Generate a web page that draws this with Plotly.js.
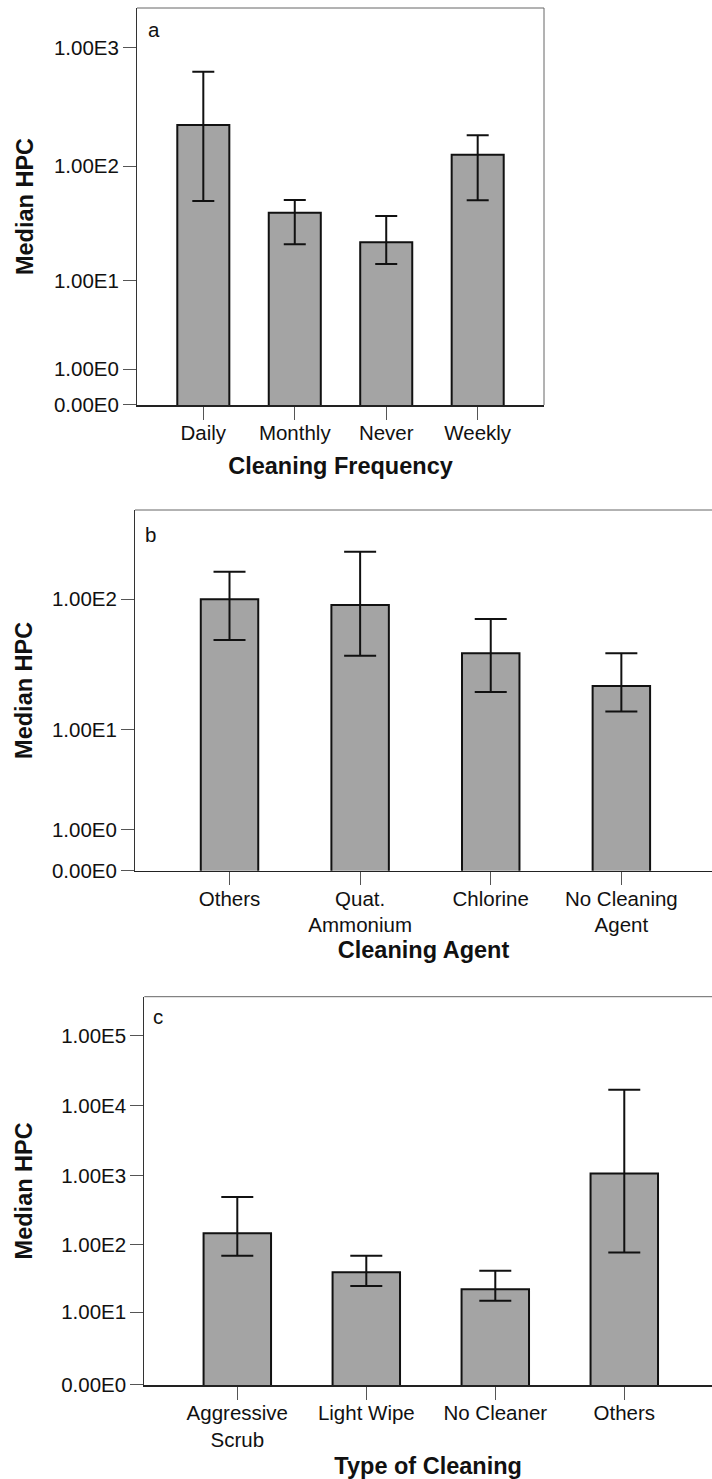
<!DOCTYPE html>
<html><head><meta charset="utf-8">
<script src="https://cdn.plot.ly/plotly-3.0.1.min.js"></script>
<style>html,body{margin:0;padding:0;background:#fff}#chart{width:712px;height:1479px}</style>
</head><body><div id="chart"></div>
<script>
// Panel a: Cleaning Frequency
const freqCategories = ['Daily', 'Monthly', 'Never', 'Weekly'];
const freqTickLabels = ['Daily', 'Monthly', 'Never', 'Weekly'];
const freqMedian = [224, 40.2, 22.2, 125.5];
const freqUpper = [629, 51.7, 37.6, 183];
const freqLower = [50.7, 21.4, 14.3, 51.4];

// Panel b: Cleaning Agent
const agentCategories = ['Others', 'Quat. Ammonium', 'Chlorine', 'No Cleaning Agent'];
const agentTickLabels = ['Others', 'Quat.<br>Ammonium', 'Chlorine', 'No Cleaning<br>Agent'];
const agentMedian = [100, 90.7, 39.3, 22.1];
const agentUpper = [160.6, 226, 71.3, 39.3];
const agentLower = [49.5, 37.7, 19.9, 14.0];

// Panel c: Type of Cleaning
const typeCategories = ['Aggressive Scrub', 'Light Wipe', 'No Cleaner', 'Others'];
const typeTickLabels = ['Aggressive<br>Scrub', 'Light Wipe', 'No Cleaner', 'Others'];
const typeMedian = [148, 40.2, 22.5, 1063];
const typeUpper = [488, 70, 42, 16830];
const typeLower = [70, 25.2, 15.1, 77.6];

// y tick values (original units) and labels
const freqTickValues = [0, 1, 10, 100, 1000];
const freqTickText = ['0.00E0', '1.00E0', '1.00E1', '1.00E2', '1.00E3'];
const agentTickValues = [0, 1, 10, 100];
const agentTickText = ['0.00E0', '1.00E0', '1.00E1', '1.00E2'];
const typeTickValues = [0, 10, 100, 1000, 10000, 100000];
const typeTickText = ['0.00E0', '1.00E1', '1.00E2', '1.00E3', '1.00E4', '1.00E5'];

const W = 712, H = 1479;
const FONT = 'Liberation Sans, Arial, Helvetica, sans-serif';
const TICK_SIZE = 20.5, TITLE_SIZE = 23.5;
const fx = p => p / W;
const fy = p => 1 - p / H;

const panels = [
  {cats: freqCategories, labels: freqTickLabels, med: freqMedian, up: freqUpper, lo: freqLower,
   tv: freqTickValues, tt: freqTickText, xtitle: 'Cleaning Frequency', tag: 'a',
   box: [137, 544, 8, 405], xr: [-0.725, 3.725], yTop: 3.334, bw: 0.569, cap: 11, right: true,
   tagPos: [146, 29], xs: 14, ys: 13},
  {cats: agentCategories, labels: agentTickLabels, med: agentMedian, up: agentUpper, lo: agentLower,
   tv: agentTickValues, tt: agentTickText, xtitle: 'Cleaning Agent', tag: 'b',
   box: [135, 712, 510, 870.7], xr: [-0.7236, 3.694], yTop: 2.664, bw: 0.44, cap: 16, right: false,
   tagPos: [143, 534], xs: 6, ys: 12},
  {cats: typeCategories, labels: typeTickLabels, med: typeMedian, up: typeUpper, lo: typeLower,
   tv: typeTickValues, tt: typeTickText, xtitle: 'Type of Cleaning', tag: 'c',
   box: [144.3, 712, 996.7, 1385], xr: [-0.721, 3.680], yTop: 5.558, bw: 0.523, cap: 16, right: false,
   tagPos: [151, 1016], xs: 10, ys: 21}
];

const data = [];
const layout = {
  width: W, height: H,
  margin: {l: 0, r: 0, t: 0, b: 0},
  paper_bgcolor: '#fff', plot_bgcolor: '#fff',
  showlegend: false,
  font: {family: FONT, size: TICK_SIZE, color: '#111'},
  shapes: [], annotations: []
};

panels.forEach((p, i) => {
  const n = i + 1;
  const sfx = n === 1 ? '' : String(n);
  data.push({
    type: 'bar',
    x: p.cats,
    y: p.med.map(v => v + 1),
    width: p.bw,
    marker: {color: '#a4a4a4', line: {color: '#111', width: 2}},
    error_y: {
      type: 'data', symmetric: false,
      array: p.up.map((u, k) => u - p.med[k]),
      arrayminus: p.med.map((m, k) => m - p.lo[k]),
      color: '#111', thickness: 2, width: p.cap
    },
    xaxis: 'x' + sfx, yaxis: 'y' + sfx,
    hoverinfo: 'none'
  });
  layout['xaxis' + sfx] = {
    domain: [fx(p.box[0]), Math.min(1, fx(p.box[1]))],
    anchor: 'y' + sfx,
    type: 'category', range: p.xr,
    tickmode: 'array', tickvals: p.cats, ticktext: p.labels,
    ticks: 'outside', ticklen: 13, tickwidth: 1, tickcolor: '#555',
    ticklabelstandoff: -4,
    showline: true, linecolor: '#222', linewidth: 1.5,
    showgrid: false, zeroline: false, automargin: false,
    tickfont: {family: FONT, size: TICK_SIZE, color: '#111'},
    title: {text: '<b>' + p.xtitle + '</b>', font: {family: FONT, size: TITLE_SIZE, color: '#111'}, standoff: p.xs},
    fixedrange: true
  };
  layout['yaxis' + sfx] = {
    domain: [fy(p.box[3]), fy(p.box[2])],
    anchor: 'x' + sfx,
    type: 'log', range: [-0.0005, p.yTop],
    tickmode: 'array', tickvals: p.tv.map(v => v + 1), ticktext: p.tt,
    ticks: 'outside', ticklen: 13, tickwidth: 1, tickcolor: '#555',
    showline: true, linecolor: '#333', linewidth: 1,
    showgrid: false, zeroline: false, automargin: false,
    tickfont: {family: FONT, size: TICK_SIZE, color: '#111'},
    title: {text: '<b>Median HPC</b>', font: {family: FONT, size: TITLE_SIZE, color: '#111'}, standoff: p.ys},
    fixedrange: true
  };
  // box top border
  layout.shapes.push({type: 'line', xref: 'paper', yref: 'paper',
    x0: fx(p.box[0]), x1: Math.min(1, fx(p.box[1])), y0: fy(p.box[2]), y1: fy(p.box[2]),
    line: {color: '#666', width: 1}});
  if (p.right) {
    layout.shapes.push({type: 'line', xref: 'paper', yref: 'paper',
      x0: fx(p.box[1]), x1: fx(p.box[1]), y0: fy(p.box[2]), y1: fy(p.box[3]),
      line: {color: '#666', width: 1}});
  }
  layout.annotations.push({text: p.tag, xref: 'paper', yref: 'paper',
    x: fx(p.tagPos[0]), y: fy(p.tagPos[1]), xanchor: 'left', yanchor: 'middle',
    showarrow: false, font: {family: FONT, size: TICK_SIZE, color: '#111'}});
});

Plotly.newPlot('chart', data, layout, {staticPlot: true, displayModeBar: false});
</script>
</body></html>
